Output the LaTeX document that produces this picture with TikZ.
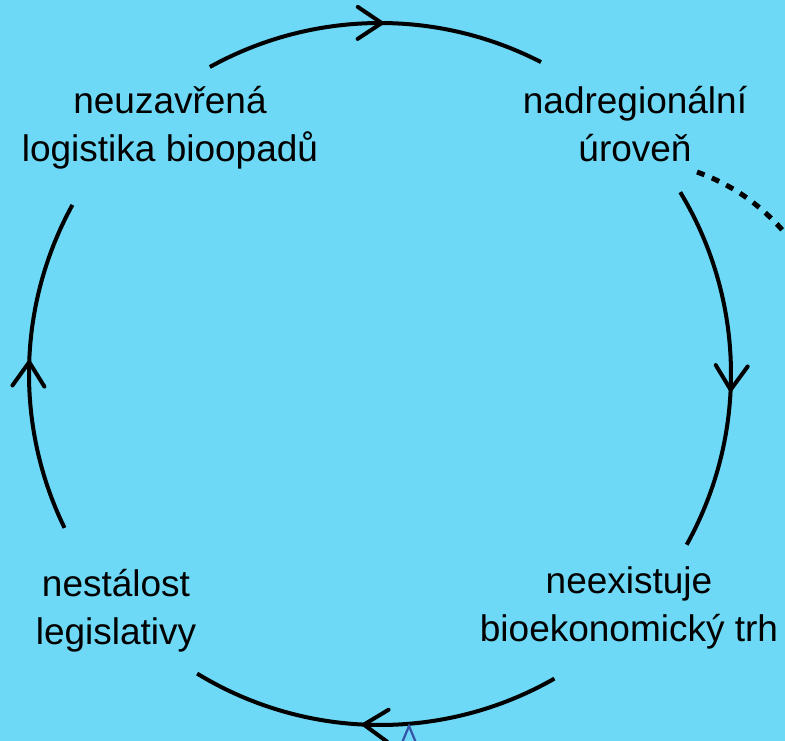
\documentclass[tikz,border=0pt]{standalone}
\usepackage{fontspec}
\setmainfont{Liberation Sans}
\usetikzlibrary{decorations.markings}
\definecolor{bgblue}{RGB}{109,217,246}
\definecolor{tipblue}{RGB}{52,82,168}
\tikzset{
  lbl/.style={align=center, anchor=base, inner sep=0pt,
    font=\fontsize{37bp}{48bp}\selectfont},
  cyclearc/.style={line width=4bp, draw=black,
    postaction={decorate, decoration={markings,
      mark=at position #1 with {\draw[line width=4bp, line cap=round, line join=miter]
        (-24bp,16bp) -- (0,0) -- (-24bp,-16bp);}}}},
  dottedlink/.style={line width=5bp, dash pattern=on 8bp off 8bp},
  bluetip/.style={draw=tipblue, line width=2.2bp, line join=miter}
}
\begin{document}
\begin{tikzpicture}[x=1bp, y=-1bp]
\useasboundingbox (0,0) rectangle (785,741);
\fill[bgblue] (0,0) rectangle (785,741);
\clip (0,0) rectangle (785,741);

\coordinate (c) at (380,374);

\node[lbl] (tl) at (170,161) {neuzavřená\\logistika bioopadů};
\node[lbl] (tr) at (635,161) {nadregionální\\úroveň};
\node[lbl] (br) at (629,641) {neexistuje\\bioekonomický trh};
\node[lbl] (bl) at (116,644) {nestálost\\legislativy};

% cycle arcs (clockwise)
\draw[cyclearc=0.52] (c) ++(119:351bp) arc[start angle=119, end angle=62.7, radius=351bp];
\draw[cyclearc=0.56] (c) ++(31.2:351bp) arc[start angle=31.2, end angle=-29.1, radius=351bp];
\draw[cyclearc=0.53] (c) ++(-60.2:351bp) arc[start angle=-60.2, end angle=-121.4, radius=351bp];
\draw[cyclearc=0.51] (c) ++(206:351bp) arc[start angle=206, end angle=151.2, radius=351bp];

% dashed link leaving to the right
\coordinate (ds) at (697,172);
\coordinate (de) at (800,252);
\draw[dottedlink] (ds) .. controls (735,186) and (768,208) .. (de);

% blue arrow tip at the bottom
\coordinate (bt) at (409,726);
\coordinate (bl1) at (399,750);
\coordinate (bl2) at (419,750);
\draw[bluetip] (bl1) -- (bt) -- (bl2);
\end{tikzpicture}
\end{document}
